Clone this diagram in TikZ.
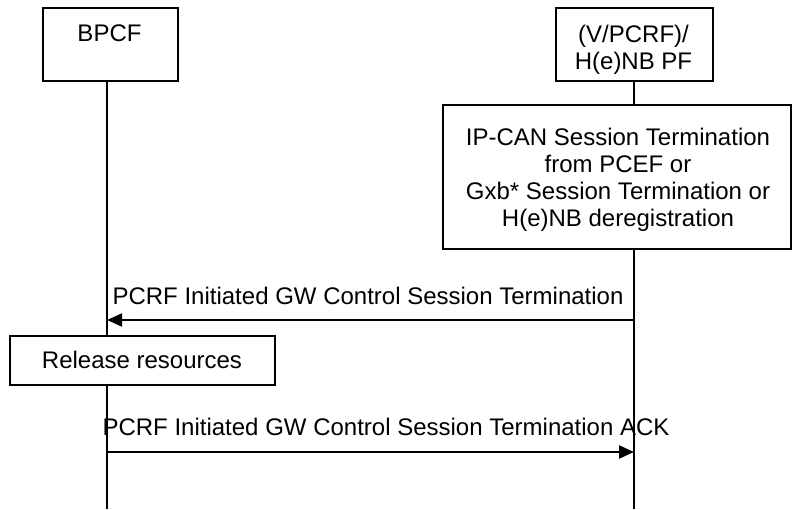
\documentclass[tikz,border=0pt]{standalone}
\usepackage{fontspec}
\setmainfont{Liberation Sans}
\usetikzlibrary{arrows.meta}
\begin{document}
\begin{tikzpicture}[x=1pt,y=-1pt,
  every node/.style={font=\fontsize{24}{27}\selectfont, inner sep=0pt},
  box/.style={draw, line width=1.6pt, fill=white, anchor=north west},
  txt/.style={anchor=base, align=center},
  life/.style={line width=1.6pt},
  msg/.style={line width=2pt, -{Triangle[length=15pt,width=13pt]}}]
\useasboundingbox (0,0) rectangle (792,509);

% entity boxes
\node[box, minimum width=135pt, minimum height=73pt] (bpcf) at (42,7) {};
\node[txt] (bpcft) at (109.5,41.5) {BPCF};
\node[box, minimum width=157pt, minimum height=73pt] (pcrf) at (555,7) {};
\node[txt] (pcrft1) at (633.5,42) {(V/PCRF)/};
\node[txt] (pcrft2) at (633.5,69) {H(e)NB PF};

% lifeline anchors
\coordinate (la0) at (107,80);
\coordinate (la1) at (107,509);
\coordinate (lb0) at (634,80);
\coordinate (lb1) at (634,509);

% trigger box on the PCRF lifeline
\node[box, minimum width=348pt, minimum height=144pt] (trig) at (442,104) {};
\node[txt] (trigt1) at (618,145.5) {IP-CAN Session Termination};
\node[txt] (trigt2) at (618,172.5) {from PCEF or};
\node[txt] (trigt3) at (618,199.5) {Gxb* Session Termination or};
\node[txt] (trigt4) at (618,226.5) {H(e)NB deregistration};

% lifelines
\draw[life] (la0) -- (la1);
\draw[life] (lb0) -- (lb0 |- trig.north);
\draw[life] (lb0 |- trig.south) -- (lb1);

% messages
\coordinate (m1a) at (634,320);
\coordinate (m1b) at (107,320);
\draw[msg] (m1a) -- (m1b);
\node[txt] (m1t) at (368,304) {PCRF Initiated GW Control Session Termination};

\node[box, minimum width=265pt, minimum height=49pt] (rel) at (9,335) {};
\node[txt] (relt) at (142,368) {Release resources};

\coordinate (m2a) at (107,452);
\coordinate (m2b) at (634,452);
\draw[msg] (m2a) -- (m2b);
\node[txt] (m2t) at (386,435) {PCRF Initiated GW Control Session Termination ACK};
\end{tikzpicture}
\end{document}
